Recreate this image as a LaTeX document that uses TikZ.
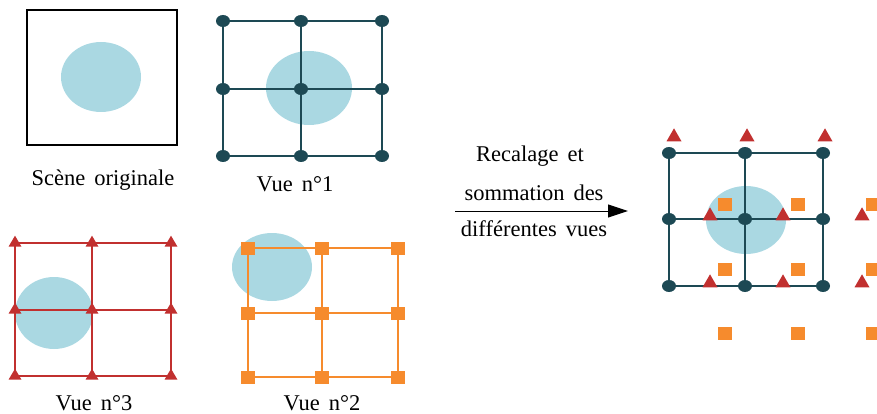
\documentclass[tikz,border=0pt]{standalone}
\usepackage{fontspec}
\setmainfont{Liberation Serif}
\usetikzlibrary{shapes.geometric,arrows.meta}
\definecolor{tealm}{HTML}{1D4954}
\definecolor{redm}{HTML}{C1302F}
\definecolor{orgm}{HTML}{F68B2D}
\definecolor{blob}{HTML}{AAD8E2}
\newcommand\mylabfont{\fontsize{22.5}{26}\selectfont\spaceskip 0.4em plus 0.1em\relax}
\begin{document}
\begin{tikzpicture}[x=1pt,y=-1pt,
  circm/.style={ellipse, fill=tealm, minimum width=14pt, minimum height=12pt, inner sep=0pt},
  trim/.style={isosceles triangle, shape border rotate=90, isosceles triangle stretches, fill=redm, minimum width=15pt, minimum height=13pt, inner sep=0pt},
  trism/.style={trim, minimum width=13pt, minimum height=11pt},
  sqm/.style={rectangle, fill=orgm, minimum width=14pt, minimum height=13pt, inner sep=0pt},
  blobst/.style={fill=blob},
  lab/.style={font=\mylabfont, inner sep=1pt},
  gteal/.style={draw=tealm, line width=1.8pt},
  gred/.style={draw=redm, line width=1.6pt},
  gorg/.style={draw=orgm, line width=1.6pt}]
\useasboundingbox (0,0) rectangle (877,414);

% Scene originale
\node[draw=black, line width=1.2pt, minimum width=150pt, minimum height=135pt, inner sep=0pt] (scene) at (102,77.5) {};
\fill[blobst] (101,77) ellipse [x radius=40, y radius=35];
\node[lab] (lscene) at (103,180) {Scène originale};

% Vue n°1
\fill[blobst] (309,88) ellipse [x radius=43, y radius=37];
\foreach \i/\x in {1/223,2/301,3/382}
  \foreach \j/\y in {1/21,2/89,3/156}
    \coordinate (a\i\j) at (\x,\y);
\foreach \j in {1,2,3} \draw[gteal] (a1\j) -- (a2\j) -- (a3\j);
\foreach \i in {1,2,3} \draw[gteal] (a\i1) -- (a\i2) -- (a\i3);
\foreach \i in {1,2,3} \foreach \j in {1,2,3} \node[circm] (na\i\j) at (a\i\j) {};
\node[lab] (lv1) at (295,184) {Vue n°1};

% Vue n°3
\fill[blobst] (54,313) ellipse [x radius=39, y radius=36];
\foreach \i/\x in {1/15,2/92,3/171}
  \foreach \j/\y in {1/243,2/310,3/376}
    \coordinate (b\i\j) at (\x,\y);
\foreach \j in {1,2,3} \draw[gred] (b1\j) -- (b2\j) -- (b3\j);
\foreach \i in {1,2,3} \draw[gred] (b\i1) -- (b\i2) -- (b\i3);
\foreach \i in {1,2,3} \foreach \j in {1,2,3} \node[trism] (nb\i\j) at (b\i\j) {};
\node[lab] (lv3) at (94,403) {Vue n°3};

% Vue n°2
\fill[blobst] (272,267) ellipse [x radius=40, y radius=34];
\foreach \i/\x in {1/248,2/322,3/398}
  \foreach \j/\y in {1/248,2/313,3/377}
    \coordinate (c\i\j) at (\x,\y);
\foreach \j in {1,2,3} \draw[gorg] (c1\j) -- (c2\j) -- (c3\j);
\foreach \i in {1,2,3} \draw[gorg] (c\i1) -- (c\i2) -- (c\i3);
\foreach \i in {1,2,3} \foreach \j in {1,2,3} \node[sqm] (nc\i\j) at (c\i\j) {};
\node[lab] (lv2) at (322,403) {Vue n°2};

% Arrow
\coordinate (arrs) at (455,211);
\coordinate (arre) at (628,211);
\draw[line width=1pt, -{Triangle[length=20pt,width=13pt]}] (arrs) -- (arre);
\node[lab] (t1) at (530,156) {Recalage et};
\node[lab] (t2) at (534,193) {sommation des};
\node[lab] (t3) at (534,229) {différentes vues};

% Result
\fill[blobst] (746,220) ellipse [x radius=40, y radius=34];
\foreach \i/\x in {1/669,2/745,3/823}
  \foreach \j/\y in {1/153,2/219,3/286}
    \coordinate (d\i\j) at (\x,\y);
\foreach \j in {1,2,3} \draw[gteal] (d1\j) -- (d2\j) -- (d3\j);
\foreach \i in {1,2,3} \draw[gteal] (d\i1) -- (d\i2) -- (d\i3);
\foreach \i in {1,2,3} \foreach \j in {1,2,3} \node[circm] (nd\i\j) at (d\i\j) {};
\foreach \x/\y [count=\k] in {674/137,747/137,825/137,710/216,783/216,862/216,710/283,783/283,862/283}
  \node[trim] (rt\k) at (\x,\y) {};
\foreach \x/\y [count=\k] in {725/204,798/204,873/204,725/269,798/269,873/269,725/333,798/333,873/333}
  \node[sqm] (rs\k) at (\x,\y) {};
\end{tikzpicture}
\end{document}
